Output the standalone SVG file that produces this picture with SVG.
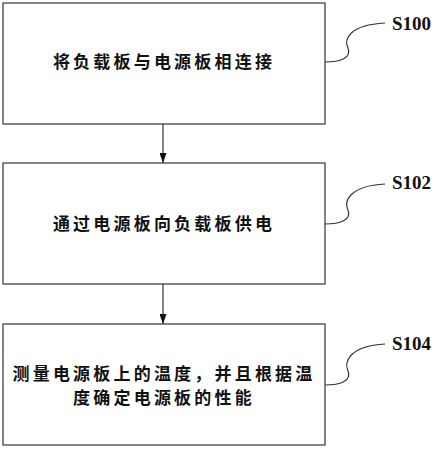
<svg xmlns="http://www.w3.org/2000/svg" width="437" height="450" viewBox="0 0 437 450">
<style>
.box{fill:#fff;stroke:#333;stroke-width:1.2}
.t{font-family:"Noto Sans CJK SC","Noto Sans CJK JP",sans-serif;font-size:17px;font-weight:bold;fill:#111;letter-spacing:3.2px}
.lbl{font-family:"Liberation Serif",serif;font-size:19px;font-weight:bold;fill:#111}
.ld{fill:none;stroke:#333;stroke-width:1.2}
.ar{stroke:#333;stroke-width:1.2;fill:none}
</style>
<defs>
<marker id="ah" markerWidth="11" markerHeight="7" refX="10" refY="3.5" orient="auto" markerUnits="userSpaceOnUse" viewBox="0 0 10 7">
<path d="M0,0 L10,3.5 L0,7 Z" fill="#111"/>
</marker>
</defs>
<rect width="437" height="450" fill="#fff"/>
<g id="connectors">
<line class="ar" x1="163" y1="124" x2="163" y2="163" marker-end="url(#ah)"/>
<line class="ar" x1="163" y1="284" x2="163" y2="324" marker-end="url(#ah)"/>
<path class="ld" d="M325,62 C340,62 352,58 348,48 C344,40 348,25 385,23"/>
<path class="ld" d="M325,224 C340,224 352,220 348,210 C344,202 348,186 385,184"/>
<path class="ld" d="M325,385 C340,385 352,381 348,371 C344,363 348,346 385,344"/>
</g>
<g id="S100">
<rect class="box" x="3" y="3" width="322" height="121"/>
<text class="t" x="164" y="68" text-anchor="middle">将负载板与电源板相连接</text>
<text class="lbl" x="392" y="30">S100</text>
</g>
<g id="S102">
<rect class="box" x="3" y="163" width="322" height="121"/>
<text class="t" x="164" y="230" text-anchor="middle">通过电源板向负载板供电</text>
<text class="lbl" x="392" y="189">S102</text>
</g>
<g id="S104">
<rect class="box" x="3" y="324" width="322" height="121"/>
<text class="t" x="164" y="380" text-anchor="middle">测量电源板上的温度，并且根据温</text>
<text class="t" x="164" y="404" text-anchor="middle">度确定电源板的性能</text>
<text class="lbl" x="392" y="350">S104</text>
</g>
</svg>
